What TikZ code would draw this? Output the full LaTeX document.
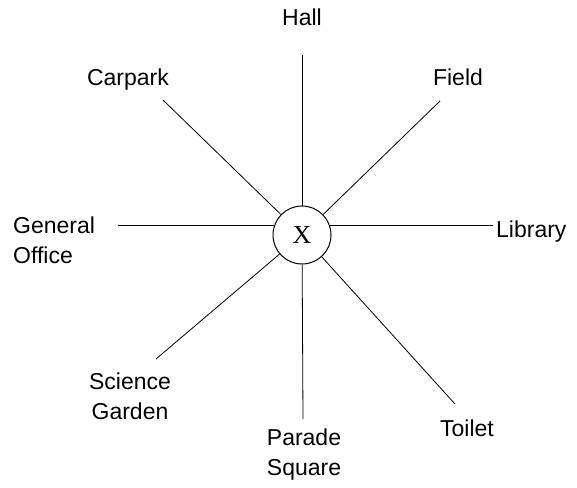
\documentclass[tikz,border=0pt]{standalone}
\usepackage{fontspec}
\setmainfont{Liberation Serif}
\setsansfont{Liberation Sans}
\usepackage{tikz}
\usetikzlibrary{positioning}

\begin{document}
\begin{tikzpicture}[x=1pt, y=-1pt,
    hub/.style={circle, draw, line width=1pt, minimum size=58pt, inner sep=0pt, font=\rmfamily\fontsize{26}{26}\selectfont},
    place/.style={inner sep=0pt, align=center, font=\sffamily\fontsize{23}{30}\selectfont},
    link/.style={line width=0.8pt}
]
    \useasboundingbox (0,0) rectangle (577,487);
    % centre
    \node[hub] (x) at (302,235) {X};
    % places round it
    \node[place, anchor=north] (hall) at (302,9) {Hall};
    \node[place, anchor=north] (carpark) at (128,69) {Carpark};
    \node[place, anchor=north] (field) at (458,69) {Field};
    \node[place, anchor=north west, align=left] (office) at (13,217) {General\\Office};
    \node[place, anchor=north west] (library) at (496,221) {Library};
    \node[place, anchor=north] (garden) at (130,373) {Science\\Garden};
    \node[place, anchor=north] (toilet) at (467,420) {Toilet};
    \node[place, anchor=north] (square) at (304,429) {Parade\\Square};
    % free ends of the lines
    \coordinate (hallEnd) at (302,55);
    \coordinate (carparkEnd) at (163,100);
    \coordinate (fieldEnd) at (440,101);
    \coordinate (officeEnd) at (118,0);
    \coordinate (libraryEnd) at (493,0);
    \coordinate (gardenEnd) at (156,359);
    \coordinate (toiletEnd) at (455,404);
    \coordinate (squareEnd) at (303,419);
    % lines
    \draw[link] (x) -- (hallEnd);
    \draw[link] (x) -- (carparkEnd);
    \draw[link] (x) -- (fieldEnd);
    \draw[link] (x.162) -- (x.162 -| officeEnd);
    \draw[link] (x.18) -- (x.18 -| libraryEnd);
    \draw[link] (x) -- (gardenEnd);
    \draw[link] (x) -- (toiletEnd);
    \draw[link] (x) -- (squareEnd);
\end{tikzpicture}
\end{document}
